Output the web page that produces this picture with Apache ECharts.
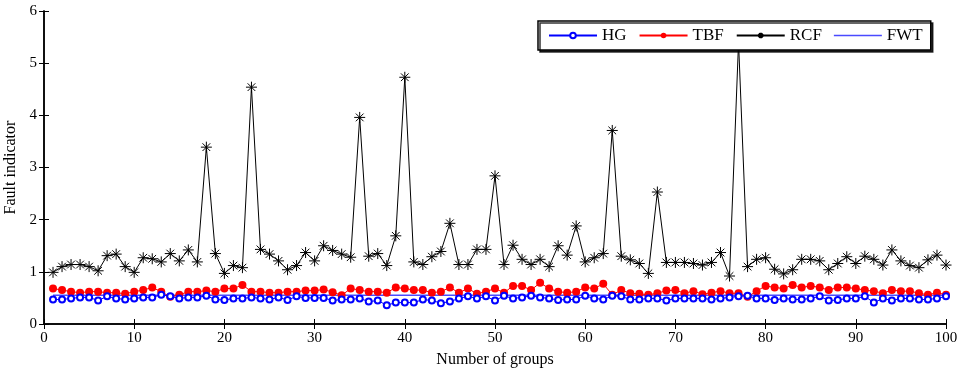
<!DOCTYPE html>
<html>
<head>
<meta charset="utf-8">
<script src="https://cdn.jsdelivr.net/npm/echarts@6/dist/echarts.min.js"></script>
<style>
    html, body { margin: 0; padding: 0; background: #fff; }
    #chart { width: 964px; height: 374px; }
</style>
</head>
<body>
<div id="chart"></div>
<script>
// 数据：100 组的故障指标
const hgData = [
    0.47, 0.47, 0.49, 0.51, 0.51, 0.45, 0.53, 0.49, 0.47, 0.49,
    0.51, 0.51, 0.56, 0.53, 0.49, 0.51, 0.51, 0.54, 0.47, 0.46,
    0.49, 0.49, 0.51, 0.49, 0.47, 0.51, 0.46, 0.53, 0.50, 0.50,
    0.50, 0.45, 0.47, 0.47, 0.49, 0.43, 0.45, 0.36, 0.41, 0.41,
    0.41, 0.47, 0.45, 0.40, 0.43, 0.49, 0.53, 0.49, 0.53, 0.45,
    0.54, 0.49, 0.51, 0.54, 0.51, 0.49, 0.46, 0.47, 0.47, 0.54,
    0.49, 0.47, 0.54, 0.53, 0.47, 0.47, 0.49, 0.49, 0.45, 0.49,
    0.49, 0.49, 0.49, 0.47, 0.49, 0.51, 0.53, 0.54, 0.49, 0.49,
    0.46, 0.49, 0.47, 0.47, 0.49, 0.53, 0.45, 0.46, 0.49, 0.49,
    0.53, 0.41, 0.49, 0.45, 0.49, 0.49, 0.47, 0.47, 0.49, 0.53
];
const tbfData = [
    0.68, 0.65, 0.62, 0.60, 0.62, 0.62, 0.60, 0.60, 0.58, 0.62,
    0.65, 0.70, 0.62, 0.52, 0.56, 0.62, 0.62, 0.64, 0.62, 0.68,
    0.68, 0.75, 0.62, 0.62, 0.60, 0.60, 0.62, 0.62, 0.64, 0.64,
    0.66, 0.61, 0.55, 0.68, 0.65, 0.62, 0.62, 0.60, 0.70, 0.68,
    0.65, 0.65, 0.60, 0.62, 0.70, 0.60, 0.68, 0.58, 0.62, 0.68,
    0.60, 0.73, 0.73, 0.65, 0.79, 0.68, 0.62, 0.60, 0.62, 0.70,
    0.68, 0.77, 0.56, 0.65, 0.59, 0.58, 0.56, 0.59, 0.64, 0.65,
    0.59, 0.63, 0.57, 0.60, 0.63, 0.59, 0.59, 0.52, 0.63, 0.73,
    0.70, 0.68, 0.75, 0.70, 0.73, 0.70, 0.65, 0.70, 0.70, 0.68,
    0.65, 0.63, 0.59, 0.65, 0.63, 0.63, 0.59, 0.56, 0.60, 0.56
];
const rcfData = [
    0.99, 1.10, 1.14, 1.14, 1.10, 1.02, 1.31, 1.34, 1.10, 0.99,
    1.27, 1.25, 1.19, 1.35, 1.21, 1.42, 1.19, 3.39, 1.35, 0.97,
    1.12, 1.08, 4.54, 1.43, 1.34, 1.21, 1.04, 1.12, 1.37, 1.21,
    1.50, 1.41, 1.34, 1.28, 3.96, 1.30, 1.35, 1.12, 1.69, 4.73,
    1.19, 1.14, 1.29, 1.39, 1.93, 1.14, 1.14, 1.43, 1.43, 2.84,
    1.14, 1.51, 1.24, 1.14, 1.24, 1.10, 1.50, 1.32, 1.88, 1.19,
    1.27, 1.35, 3.71, 1.30, 1.23, 1.16, 0.97, 2.53, 1.18, 1.18,
    1.18, 1.16, 1.13, 1.18, 1.37, 0.92, 5.40, 1.10, 1.24, 1.27,
    1.05, 0.96, 1.04, 1.24, 1.24, 1.21, 1.04, 1.16, 1.29, 1.16,
    1.30, 1.24, 1.13, 1.42, 1.21, 1.12, 1.08, 1.23, 1.32, 1.13
];
// FWT 为水平阈值线
const fwtLevel = 0.55;
const fwtRange = [1, 100];

const withIndex = arr => arr.map((v, i) => [i + 1, v]);
const fwtData = fwtRange.map(x => [x, fwtLevel]);

const serif = 'Liberation Serif';
const starPath = 'path://M0,-10 L0,10 M-10,0 L10,0 M-7,-7 L7,7 M-7,7 L7,-7';
const lineIcon = 'path://M0,0 L48,0 L48,1.5 L0,1.5 Z';

const chart = echarts.init(document.getElementById('chart'));
const option = {
    animation: false,
    backgroundColor: '#fff',
    textStyle: { fontFamily: serif },
    grid: { left: 44, right: 18, top: 11, bottom: 50, outerBoundsMode: 'none' },
    legend: {
        left: 538,
        top: 21,
        padding: [6, 8, 6, 10],
        itemWidth: 48,
        itemHeight: 7,
        itemGap: 12,
        backgroundColor: '#fff',
        borderColor: '#000',
        borderWidth: 1.5,
        shadowColor: 'rgba(0,0,0,0.8)',
        shadowOffsetX: 2,
        shadowOffsetY: 2,
        textStyle: { fontFamily: serif, fontSize: 17, color: '#000' },
        data: ['HG', 'TBF', 'RCF', { name: 'FWT', icon: lineIcon }]
    },
    xAxis: [
        {
            type: 'value', min: 0, max: 100, interval: 10,
            name: 'Number of groups', nameLocation: 'middle', nameGap: 28,
            nameTextStyle: { fontFamily: serif, fontSize: 16, color: '#000' },
            axisLine: { lineStyle: { color: '#000', width: 1.5 } },
            axisTick: { inside: true, length: 5, lineStyle: { color: '#000' } },
            axisLabel: { color: '#000', fontFamily: serif, fontSize: 15, margin: 7 },
            splitLine: { show: false }
        },
        {
            type: 'value', min: 0, max: 100, interval: 10, position: 'top',
            axisLine: { lineStyle: { color: '#000', width: 1.5 } },
            axisTick: { inside: true, length: 5, lineStyle: { color: '#000' } },
            axisLabel: { show: false },
            splitLine: { show: false }
        }
    ],
    yAxis: [
        {
            type: 'value', min: 0, max: 6, interval: 1,
            name: 'Fault indicator', nameLocation: 'middle', nameGap: 24,
            nameTextStyle: { fontFamily: serif, fontSize: 16, color: '#000' },
            axisLine: { show: true, lineStyle: { color: '#000', width: 1.5 } },
            axisTick: { show: true, inside: true, length: 5, lineStyle: { color: '#000' } },
            axisLabel: { color: '#000', fontFamily: serif, fontSize: 15, margin: 7 },
            splitLine: { show: false }
        },
        {
            type: 'value', min: 0, max: 6, interval: 1, position: 'right',
            axisLine: { show: true, lineStyle: { color: '#000', width: 1.5 } },
            axisTick: { show: true, inside: true, length: 5, lineStyle: { color: '#000' } },
            axisLabel: { show: false },
            splitLine: { show: false }
        }
    ],
    series: [
        {
            name: 'FWT', type: 'line', data: fwtData,
            symbol: 'none', z: 1,
            lineStyle: { color: '#4a4aff', width: 1.5 },
            itemStyle: { color: '#4a4aff' }
        },
        {
            name: 'RCF', type: 'line', data: withIndex(rcfData),
            symbol: starPath, symbolSize: 11, z: 3,
            lineStyle: { color: '#000', width: 1 },
            itemStyle: { color: '#000', borderColor: '#000', borderWidth: 1 }
        },
        {
            name: 'TBF', type: 'line', data: withIndex(tbfData),
            symbol: 'circle', symbolSize: 8, z: 2,
            lineStyle: { color: '#ff0000', width: 1 },
            itemStyle: { color: '#ff0000' }
        },
        {
            name: 'HG', type: 'line', data: withIndex(hgData),
            symbol: 'emptyCircle', symbolSize: 6, z: 4,
            lineStyle: { color: '#0000ff', width: 1 },
            itemStyle: { color: '#0000ff', borderWidth: 1 }
        }
    ]
};
chart.setOption(option);

window.addEventListener('resize', function() {
    chart.resize();
});
</script>
</body>
</html>
